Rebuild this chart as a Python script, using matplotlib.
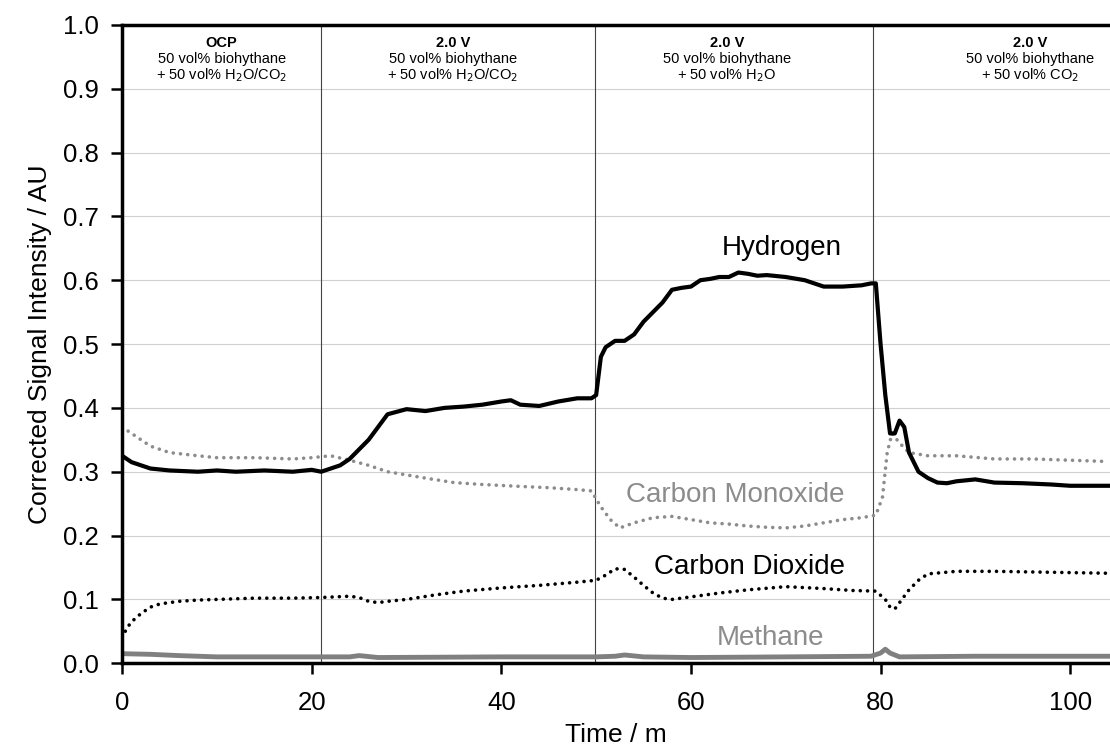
import matplotlib
matplotlib.use('Agg')
import matplotlib.pyplot as plt
import numpy as np

plt.rcParams['font.family'] = ['Liberation Sans', 'DejaVu Sans']

# hydrogen, solid black
h2_t = [0, 1, 2, 3, 5, 8, 10, 12, 15, 18, 20, 21, 22, 23, 24, 25, 26, 27, 28, 30, 32, 34, 36, 38, 40, 41, 42, 44, 46, 48, 49.5,
        50, 50.5, 51, 52, 53, 54, 55, 56, 57, 58, 59, 60, 61, 62, 63, 64, 65, 66, 67, 68, 70, 72, 73, 74, 76, 78, 79, 79.5,
        80, 80.5, 81, 81.5, 82, 82.5, 83, 84, 85, 86, 87, 88, 90, 92, 95, 98, 100, 102, 104]
h2_v = [0.325, 0.315, 0.31, 0.305, 0.302, 0.30, 0.302, 0.30, 0.302, 0.30, 0.303, 0.30, 0.305, 0.31, 0.32, 0.335, 0.35, 0.37, 0.39, 0.398, 0.395, 0.40, 0.402, 0.405, 0.41, 0.412, 0.405, 0.403, 0.41, 0.415, 0.415,
        0.42, 0.48, 0.495, 0.505, 0.505, 0.515, 0.535, 0.55, 0.565, 0.585, 0.588, 0.59, 0.60, 0.602, 0.605, 0.605, 0.612, 0.61, 0.607, 0.608, 0.605, 0.6, 0.595, 0.59, 0.59, 0.592, 0.595, 0.595,
        0.50, 0.42, 0.36, 0.36, 0.38, 0.37, 0.33, 0.30, 0.29, 0.283, 0.282, 0.285, 0.288, 0.283, 0.282, 0.28, 0.278, 0.278, 0.278]

# carbon monoxide, grey dotted
co_t = [0, 1, 2, 3, 5, 8, 10, 14, 18, 20, 22, 24, 26, 28, 30, 32, 35, 38, 42, 45, 48, 49.5, 50.5, 51.5, 52.5, 54, 56, 58, 60, 62, 64,
        66, 68, 70, 72, 74, 76, 78, 79.5, 80.2, 80.7, 81.2, 82, 83, 85, 88, 92, 96, 100, 104]
co_v = [0.37, 0.36, 0.35, 0.34, 0.33, 0.325, 0.322, 0.322, 0.32, 0.322, 0.325, 0.318, 0.31, 0.30, 0.295, 0.29, 0.283, 0.28, 0.277, 0.275, 0.272, 0.27, 0.245, 0.225, 0.212, 0.22, 0.228, 0.23, 0.225, 0.22, 0.218,
        0.215, 0.213, 0.212, 0.215, 0.22, 0.225, 0.228, 0.232, 0.26, 0.33, 0.36, 0.345, 0.33, 0.325, 0.325, 0.32, 0.32, 0.318, 0.316]

# carbon dioxide, black dotted
co2_t = [0, 0.5, 1, 2, 3, 4, 6, 8, 10, 14, 18, 21, 24, 25, 26, 27, 28, 30, 33, 36, 40, 44, 48, 50, 51, 52, 53, 54, 55, 56, 57,
         58, 60, 63, 66, 70, 74, 77, 79.5, 80.5, 81, 81.5, 82, 83, 84, 85, 88, 92, 96, 100, 104]
co2_v = [0.04, 0.055, 0.065, 0.078, 0.088, 0.093, 0.097, 0.099, 0.10, 0.102, 0.102, 0.103, 0.105, 0.103, 0.097, 0.095, 0.097, 0.10, 0.107, 0.113, 0.118, 0.122, 0.127, 0.13, 0.138, 0.148, 0.147, 0.135, 0.122, 0.11, 0.102,
         0.10, 0.104, 0.11, 0.115, 0.12, 0.117, 0.114, 0.113, 0.10, 0.088, 0.085, 0.095, 0.115, 0.13, 0.14, 0.144, 0.144, 0.143, 0.142, 0.141]

# methane, grey solid
ch4_t = [0, 3, 6, 10, 20, 24, 25, 27, 40, 50, 52, 53, 55, 60, 70, 79, 80, 80.5, 81, 82, 90, 104]
ch4_v = [0.015, 0.014, 0.012, 0.010, 0.010, 0.010, 0.012, 0.009, 0.010, 0.010, 0.011, 0.013, 0.010, 0.009, 0.010, 0.011, 0.016, 0.022, 0.016, 0.010, 0.011, 0.011]

steps = [21, 49.9, 79.2]
head_x = [10.5, 34.9, 63.8, 95.8]
head_bold = ['OCP', '2.0 V', '2.0 V', '2.0 V']
head_txt = ['50 vol% biohythane\n+ 50 vol% H$_2$O/CO$_2$',
            '50 vol% biohythane\n+ 50 vol% H$_2$O/CO$_2$',
            '50 vol% biohythane\n+ 50 vol% H$_2$O',
            '50 vol% biohythane\n+ 50 vol% CO$_2$']

fig = plt.figure(figsize=(11.1, 7.52), dpi=100)
ax = fig.add_axes([0.110, 0.118, 0.890, 0.849])

ax.set_yticks(np.arange(0, 1.01, 0.1))
ax.yaxis.grid(True, color='#d0d0d0', lw=0.8)
ax.set_axisbelow(True)

for s in steps:
    ax.axvline(s, color='#444444', lw=0.8)

dots = (0, (0.01, 2.0))
ax.plot(ch4_t, ch4_v, color='#808080', lw=3.5)
ax.plot(co2_t, co2_v, color='black', lw=2.6, ls=dots, dash_capstyle='round')
ax.plot(co_t, co_v, color='#8c8c8c', lw=2.6, ls=dots, dash_capstyle='round')
ax.plot(h2_t, h2_v, color='black', lw=3)

ax.text(69.6, 0.65, 'Hydrogen', fontsize=20, ha='center', va='center')
ax.text(64.7, 0.263, 'Carbon Monoxide', fontsize=20, color='#8c8c8c', ha='center', va='center')
ax.text(66.2, 0.15, 'Carbon Dioxide', fontsize=20, ha='center', va='center')
ax.text(68.4, 0.039, 'Methane', fontsize=20, color='#8c8c8c', ha='center', va='center')

for x, b, t in zip(head_x, head_bold, head_txt):
    ax.text(x, 0.972, b, fontsize=10.5, fontweight='bold', ha='center', va='center')
    ax.text(x, 0.958, t, fontsize=10.5, ha='center', va='top', linespacing=1.05)

ax.set_xlim(0, 104.2)
ax.set_ylim(0, 1.0)
ax.set_xticks([0, 20, 40, 60, 80, 100])
ax.set_yticklabels(['%.1f' % v for v in np.arange(0, 1.01, 0.1)])
ax.tick_params(labelsize=18.5, width=1.8, length=8, direction='out')
ax.tick_params(axis='x', pad=12)
ax.tick_params(axis='y', pad=9)
for side in ['left', 'bottom', 'top']:
    ax.spines[side].set_linewidth(2.5)
ax.spines['right'].set_visible(False)

ax.set_xlabel('Time / m', fontsize=19, labelpad=6)
ax.set_ylabel('Corrected Signal Intensity / AU', fontsize=19, labelpad=8)

fig.savefig('out.png', dpi=100)
